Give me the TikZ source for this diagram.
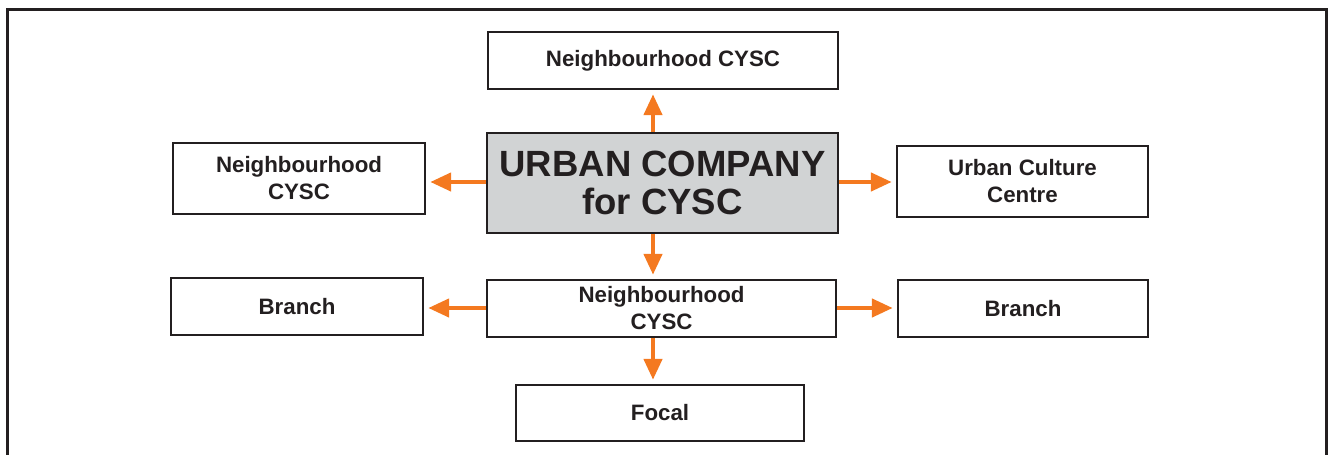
\documentclass[tikz,border=0pt]{standalone}
\usepackage{fontspec}
\setmainfont{Liberation Sans}
\usetikzlibrary{arrows.meta}
\definecolor{ink}{HTML}{231F20}
\definecolor{orng}{HTML}{F47920}
\definecolor{cgray}{HTML}{D1D3D4}
\begin{document}
\begin{tikzpicture}[x=1pt,y=-1pt,
  box/.style={draw=ink,line width=2.4pt,fill=white,inner sep=0pt,align=center,
    font=\fontsize{22.3}{27}\selectfont\bfseries,text=ink},
  mainbox/.style={box,fill=cgray,font=\fontsize{36.5}{38.5}\selectfont\bfseries},
  arr/.style={draw=orng,line width=4.5pt,-{Triangle[length=21pt,width=18pt]},shorten >=4pt}]
\useasboundingbox (0,0) rectangle (1328,455);
\draw[ink,line width=3pt] (7,460) -- (7,9) -- (1326,9) -- (1326,460);
\node[box,minimum width=350pt,minimum height=57pt] (top) at (663,60.5) {Neighbourhood CYSC};
\node[mainbox,minimum width=351pt,minimum height=100pt] (c) at (662.5,183) {URBAN COMPANY\\for CYSC};
\node[box,minimum width=252pt,minimum height=71pt] (l) at (299,178.5) {Neighbourhood\\CYSC};
\node[box,minimum width=251pt,minimum height=71pt] (r) at (1022.5,181.5) {Urban Culture\\Centre};
\node[box,minimum width=349pt,minimum height=57pt] (m) at (661.5,308.5) {Neighbourhood\\CYSC};
\node[box,minimum width=252pt,minimum height=57pt] (bl) at (297,306.5) {Branch};
\node[box,minimum width=250pt,minimum height=57pt] (br) at (1023,308.5) {Branch};
\node[box,minimum width=288pt,minimum height=56pt] (f) at (660,413) {Focal};
\coordinate (ax) at (653,0);
\coordinate (ay) at (0,182);
\coordinate (by) at (0,308);
\draw[arr] (c.north -| ax) -- (top.south -| ax);
\draw[arr] (c.west |- ay) -- (l.east |- ay);
\draw[arr] (c.east |- ay) -- (r.west |- ay);
\draw[arr] (c.south -| ax) -- (m.north -| ax);
\draw[arr] (m.west |- by) -- (bl.east |- by);
\draw[arr] (m.east |- by) -- (br.west |- by);
\draw[arr] (m.south -| ax) -- (f.north -| ax);
\end{tikzpicture}
\end{document}
